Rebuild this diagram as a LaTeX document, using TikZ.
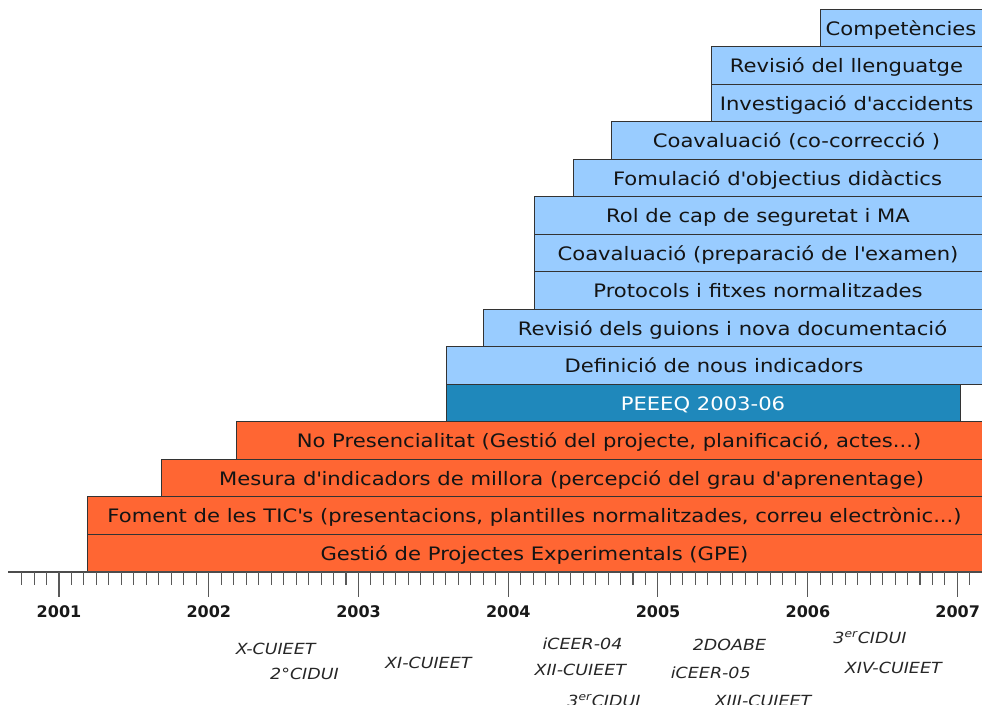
\documentclass[tikz,border=0pt]{standalone}
\usepackage{fontspec}
\newfontfamily\barfont[FakeStretch=1.14]{DejaVu Sans}
\newfontfamily\yearfont[FakeStretch=1.0]{DejaVu Sans}
\definecolor{lblue}{HTML}{99CCFF}
\definecolor{orng}{HTML}{FF6633}
\definecolor{pblue}{HTML}{1F88BB}
\definecolor{edge}{HTML}{333333}
\newcommand\q{\textquotesingle}
\tikzset{
  bluebar/.style={fill=lblue,draw=edge,line width=0.7pt},
  orangebar/.style={fill=orng,draw=edge,line width=0.7pt},
  peeeqbar/.style={fill=pblue,draw=edge,line width=0.7pt},
  bartext/.style={anchor=base,inner sep=0pt,font=\barfont\fontsize{13.9pt}{16pt}\selectfont,text=black!92},
  whitetext/.style={bartext,text=white},
  yearlab/.style={anchor=center,inner sep=0pt,font=\yearfont\bfseries\fontsize{12pt}{14pt}\selectfont,text=black!90},
  evlab/.style={anchor=center,inner sep=0pt,font=\barfont\itshape\fontsize{11.5pt}{14pt}\selectfont,text=black!85},
  minortick/.style={draw=black!65,line width=0.8pt},
  axisline/.style={draw=black!70,line width=1pt}
}
\newcommand\gbar[7]{% name, left, right, row, barstyle, textstyle, text
  \pgfmathsetmacro\gbTop{9.25+37.5*#4}%
  \pgfmathsetmacro\gbBot{\gbTop+37.5}%
  \pgfmathsetmacro\gbMid{(#2+min(#3,982))/2}%
  \pgfmathsetmacro\gbBase{\gbTop+18.75+7}%
  \path[#5] (#2,\gbTop) rectangle (#3,\gbBot);
  \node[#6] (#1) at (\gbMid,\gbBase) {#7};}
\begin{document}
\begin{tikzpicture}[x=0.75pt,y=-0.75pt]
\useasboundingbox (0,0) rectangle (982,704);
\clip (0,0) rectangle (982,704);
% bars
\gbar{b0}{820}{990}{0}{bluebar}{bartext}{Competències}
\gbar{b1}{711}{990}{1}{bluebar}{bartext}{Revisió del llenguatge}
\gbar{b2}{711}{990}{2}{bluebar}{bartext}{Investigació d\q accidents}
\gbar{b3}{611}{990}{3}{bluebar}{bartext}{Coavaluació (co-correcció )}
\gbar{b4}{573}{990}{4}{bluebar}{bartext}{Fomulació d\q objectius didàctics}
\gbar{b5}{534}{990}{5}{bluebar}{bartext}{Rol de cap de seguretat i MA}
\gbar{b6}{534}{990}{6}{bluebar}{bartext}{Coavaluació (preparació de l\q examen)}
\gbar{b7}{534}{990}{7}{bluebar}{bartext}{Protocols i fitxes normalitzades}
\gbar{b8}{483}{990}{8}{bluebar}{bartext}{Revisió dels guions i nova documentació}
\gbar{b9}{446}{990}{9}{bluebar}{bartext}{Definició de nous indicadors}
\gbar{b10}{446}{960}{10}{peeeqbar}{whitetext}{PEEEQ 2003-06}
\gbar{b11}{236}{990}{11}{orangebar}{bartext}{No Presencialitat (Gestió del projecte, planificació, actes...)}
\gbar{b12}{161}{990}{12}{orangebar}{bartext}{Mesura d\q indicadors de millora (percepció del grau d\q aprenentage)}
\gbar{b13}{87}{990}{13}{orangebar}{bartext}{Foment de les TIC\q s (presentacions, plantilles normalitzades, correu electrònic...)}
\gbar{b14}{87}{990}{14}{orangebar}{bartext}{Gestió de Projectes Experimentals (GPE)}
% axis
\coordinate (axL) at (8,572);
\coordinate (axR) at (990,572);
\draw[axisline] (axL) -- (axR);
\foreach \k in {-3,...,73}{
  \pgfmathsetmacro\tx{59+\k*12.478}
  \pgfmathtruncatemacro\mm{mod(\k+36,12)}
  \ifnum\mm=0
    \draw[minortick] (\tx,572) -- (\tx,597);
  \else
    \draw[minortick] (\tx,572) -- (\tx,585);
  \fi
}
% years
\node[yearlab] (y2001) at (59,612) {2001};
\node[yearlab] (y2002) at (208.8,612) {2002};
\node[yearlab] (y2003) at (358.6,612) {2003};
\node[yearlab] (y2004) at (508.3,612) {2004};
\node[yearlab] (y2005) at (658.1,612) {2005};
\node[yearlab] (y2006) at (807.9,612) {2006};
\node[yearlab] (y2007) at (957.7,612) {2007};
% events
\node[evlab] (e1) at (275.7,649) {X-CUIEET};
\node[evlab] (e2) at (304.5,674) {2°CIDUI};
\node[evlab] (e3) at (428.3,662.5) {XI-CUIEET};
\node[evlab] (e4) at (582.5,643.3) {iCEER-04};
\node[evlab] (e5) at (580.3,670.2) {XII-CUIEET};
\node[evlab] (e6) at (604,700.5) {3\textsuperscript{er}CIDUI};
\node[evlab] (e7) at (729.5,644.5) {2DOABE};
\node[evlab] (e8) at (710.8,673) {iCEER-05};
\node[evlab] (e9) at (763,701) {XIII-CUIEET};
\node[evlab] (e10) at (870,637.2) {3\textsuperscript{er}CIDUI};
\node[evlab] (e11) at (893.3,667.8) {XIV-CUIEET};
\end{tikzpicture}
\end{document}
